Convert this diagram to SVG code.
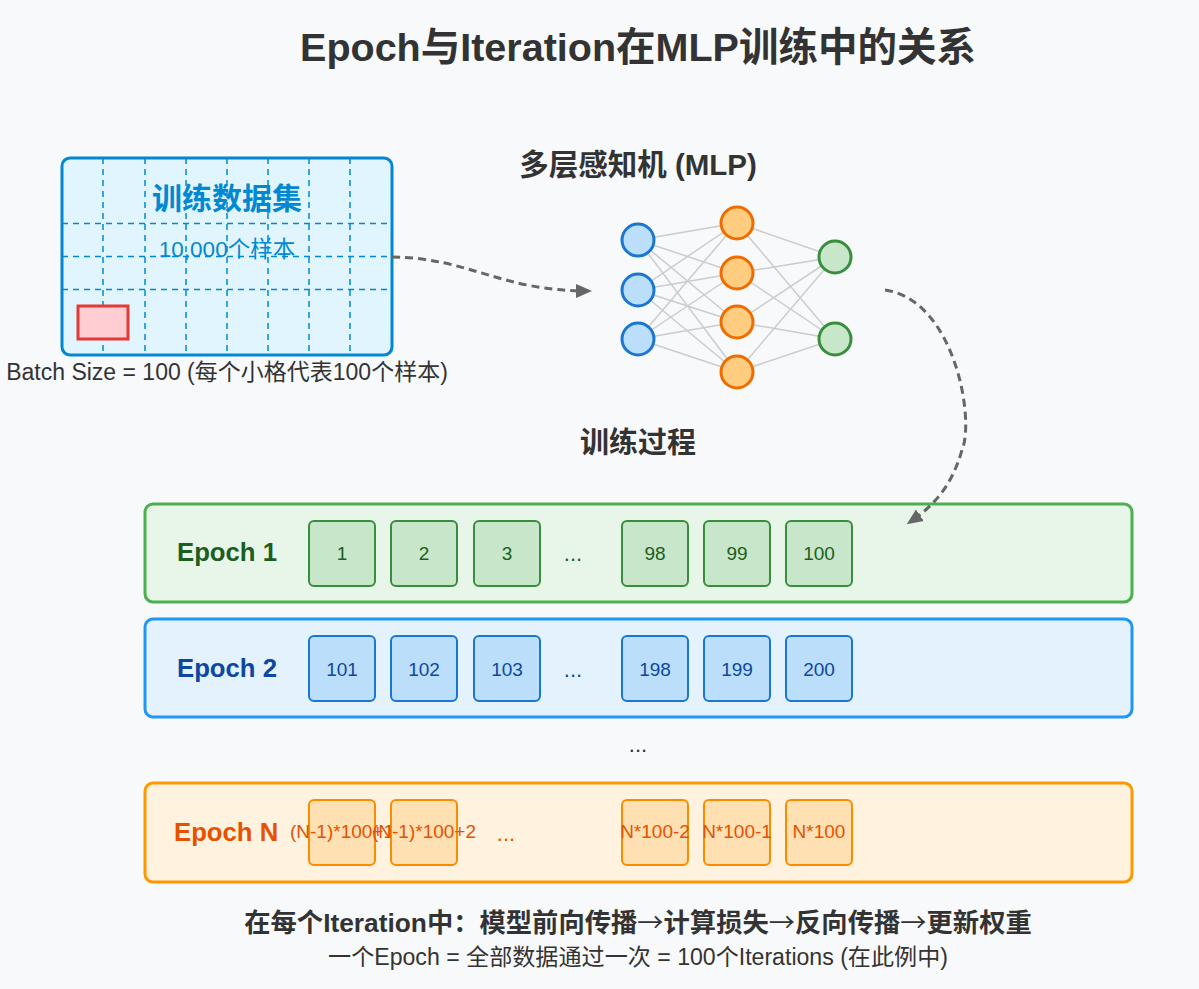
<svg xmlns="http://www.w3.org/2000/svg" width="1199" height="989" viewBox="0 0 1199 989">
<defs>
<marker id="arr" markerWidth="16" markerHeight="16" refX="12" refY="8" orient="auto" markerUnits="userSpaceOnUse">
<path d="M0,1 L16,8 L0,15 Z" fill="#666"/>
</marker>
<style>
text{font-family:"Liberation Sans","Noto Sans CJK SC",sans-serif;}
.h{font-weight:bold;fill:#333;text-anchor:middle;}
.grid{stroke:#0288d1;stroke-width:1.5;stroke-dasharray:6,5;fill:none;}
.syn{stroke:#ccc;stroke-width:1.5;}
.in{fill:#bbdefb;stroke:#1976d2;stroke-width:3;}
.hid{fill:#ffcc80;stroke:#ef6c00;stroke-width:3;}
.out{fill:#c8e6c9;stroke:#388e3c;stroke-width:3;}
.flow{fill:none;stroke:#666;stroke-width:3;stroke-dasharray:8,5;}
.elabel{font-weight:bold;font-size:25.7px;}
.it{text-anchor:middle;font-size:19px;}
.dots{text-anchor:middle;font-size:22px;}
.g1 rect.b{fill:#c8e6c9;stroke:#388e3c;stroke-width:2;}
.g2 rect.b{fill:#bbdefb;stroke:#1976d2;stroke-width:2;}
.gn rect.b{fill:#ffe0b2;stroke:#fb8c00;stroke-width:2;}
</style>
</defs>
<rect x="0" y="0" width="1199" height="989" fill="#f8f9fa"/>
<text class="h" x="638" y="61" font-size="39.5">Epoch与Iteration在MLP训练中的关系</text>

<g id="dataset">
<rect x="62" y="158" width="330" height="197" rx="8" fill="#e1f5fe" stroke="#0288d1" stroke-width="3"/>
<line class="grid" x1="103" y1="158" x2="103" y2="355"/>
<line class="grid" x1="145" y1="158" x2="145" y2="355"/>
<line class="grid" x1="186" y1="158" x2="186" y2="355"/>
<line class="grid" x1="227" y1="158" x2="227" y2="355"/>
<line class="grid" x1="268" y1="158" x2="268" y2="355"/>
<line class="grid" x1="309" y1="158" x2="309" y2="355"/>
<line class="grid" x1="350" y1="158" x2="350" y2="355"/>
<line class="grid" x1="62" y1="223.5" x2="392" y2="223.5"/>
<line class="grid" x1="62" y1="256.5" x2="392" y2="256.5"/>
<line class="grid" x1="62" y1="289.5" x2="392" y2="289.5"/>
<text x="227" y="209" text-anchor="middle" font-size="30" font-weight="bold" fill="#0288d1">训练数据集</text>
<text x="227" y="257" text-anchor="middle" font-size="22.5" fill="#0288d1">10,000个样本</text>
<rect x="78" y="306" width="50" height="33" fill="#ffcdd2" stroke="#e53935" stroke-width="3"/>
<text x="227" y="380" text-anchor="middle" font-size="23" fill="#333">Batch Size = 100 (每个小格代表100个样本)</text>
</g>

<g id="mlp">
<text class="h" x="638" y="175" font-size="29.5">多层感知机 (MLP)</text>
<g>
<line class="syn" x1="638" y1="240" x2="737" y2="223"/><line class="syn" x1="638" y1="240" x2="737" y2="273"/><line class="syn" x1="638" y1="240" x2="737" y2="322"/><line class="syn" x1="638" y1="240" x2="737" y2="372"/>
<line class="syn" x1="638" y1="290" x2="737" y2="223"/><line class="syn" x1="638" y1="290" x2="737" y2="273"/><line class="syn" x1="638" y1="290" x2="737" y2="322"/><line class="syn" x1="638" y1="290" x2="737" y2="372"/>
<line class="syn" x1="638" y1="339" x2="737" y2="223"/><line class="syn" x1="638" y1="339" x2="737" y2="273"/><line class="syn" x1="638" y1="339" x2="737" y2="322"/><line class="syn" x1="638" y1="339" x2="737" y2="372"/>
<line class="syn" x1="737" y1="223" x2="835" y2="257"/><line class="syn" x1="737" y1="223" x2="835" y2="339"/>
<line class="syn" x1="737" y1="273" x2="835" y2="257"/><line class="syn" x1="737" y1="273" x2="835" y2="339"/>
<line class="syn" x1="737" y1="322" x2="835" y2="257"/><line class="syn" x1="737" y1="322" x2="835" y2="339"/>
<line class="syn" x1="737" y1="372" x2="835" y2="257"/><line class="syn" x1="737" y1="372" x2="835" y2="339"/>
</g>
<circle class="in" cx="638" cy="240" r="16"/><circle class="in" cx="638" cy="290" r="16"/><circle class="in" cx="638" cy="339" r="16"/>
<circle class="hid" cx="737" cy="223" r="16"/><circle class="hid" cx="737" cy="273" r="16"/><circle class="hid" cx="737" cy="322" r="16"/><circle class="hid" cx="737" cy="372" r="16"/>
<circle class="out" cx="835" cy="257" r="16"/><circle class="out" cx="835" cy="339" r="16"/>
</g>

<text class="h" x="638" y="453" font-size="29">训练过程</text>

<g id="epoch1" class="g1">
<rect x="145" y="504" width="987" height="98" rx="8" fill="#e8f5e9" stroke="#4caf50" stroke-width="3"/>
<text class="elabel" x="177" y="561" fill="#1b5e20">Epoch 1</text>
<rect class="b" x="309" y="521" width="66" height="65" rx="5"/><text class="it" x="342" y="560" fill="#1b5e20">1</text>
<rect class="b" x="391" y="521" width="66" height="65" rx="5"/><text class="it" x="424" y="560" fill="#1b5e20">2</text>
<rect class="b" x="474" y="521" width="66" height="65" rx="5"/><text class="it" x="507" y="560" fill="#1b5e20">3</text>
<text class="dots" x="573" y="561" fill="#1b5e20">...</text>
<rect class="b" x="622" y="521" width="66" height="65" rx="5"/><text class="it" x="655" y="560" fill="#1b5e20">98</text>
<rect class="b" x="704" y="521" width="66" height="65" rx="5"/><text class="it" x="737" y="560" fill="#1b5e20">99</text>
<rect class="b" x="786" y="521" width="66" height="65" rx="5"/><text class="it" x="819" y="560" fill="#1b5e20">100</text>
</g>

<g id="epoch2" class="g2">
<rect x="145" y="619" width="987" height="98" rx="8" fill="#e3f2fd" stroke="#2196f3" stroke-width="3"/>
<text class="elabel" x="177" y="677" fill="#0d47a1">Epoch 2</text>
<rect class="b" x="309" y="636" width="66" height="65" rx="5"/><text class="it" x="342" y="676" fill="#0d47a1">101</text>
<rect class="b" x="391" y="636" width="66" height="65" rx="5"/><text class="it" x="424" y="676" fill="#0d47a1">102</text>
<rect class="b" x="474" y="636" width="66" height="65" rx="5"/><text class="it" x="507" y="676" fill="#0d47a1">103</text>
<text class="dots" x="573" y="677" fill="#0d47a1">...</text>
<rect class="b" x="622" y="636" width="66" height="65" rx="5"/><text class="it" x="655" y="676" fill="#0d47a1">198</text>
<rect class="b" x="704" y="636" width="66" height="65" rx="5"/><text class="it" x="737" y="676" fill="#0d47a1">199</text>
<rect class="b" x="786" y="636" width="66" height="65" rx="5"/><text class="it" x="819" y="676" fill="#0d47a1">200</text>
</g>

<text class="dots" x="638" y="752" fill="#333">...</text>

<g id="epochN" class="gn">
<rect x="145" y="783" width="987" height="99" rx="8" fill="#fff3e0" stroke="#ff9800" stroke-width="3"/>
<text class="elabel" x="174" y="841" fill="#e65100">Epoch N</text>
<rect class="b" x="309" y="800" width="66" height="65" rx="5"/><text class="it" x="342" y="838" font-size="13.5" fill="#e65100">(N-1)*100+1</text>
<rect class="b" x="391" y="800" width="66" height="65" rx="5"/><text class="it" x="424" y="838" font-size="13.5" fill="#e65100">(N-1)*100+2</text>
<text class="dots" x="506" y="841" fill="#e65100">...</text>
<rect class="b" x="622" y="800" width="66" height="65" rx="5"/><text class="it" x="655" y="838" font-size="13.5" fill="#e65100">N*100-2</text>
<rect class="b" x="704" y="800" width="66" height="65" rx="5"/><text class="it" x="737" y="838" font-size="13.5" fill="#e65100">N*100-1</text>
<rect class="b" x="786" y="800" width="66" height="65" rx="5"/><text class="it" x="819" y="838" font-size="13.5" fill="#e65100">N*100</text>
</g>

<g id="notes">
<text class="h" x="638" y="932" font-size="26.3">在每个Iteration中：模型前向传播<tspan font-weight="normal" font-family="Noto Sans CJK SC, sans-serif">→</tspan>计算损失<tspan font-weight="normal" font-family="Noto Sans CJK SC, sans-serif">→</tspan>反向传播<tspan font-weight="normal" font-family="Noto Sans CJK SC, sans-serif">→</tspan>更新权重</text>
<text x="638" y="965" text-anchor="middle" font-size="23.1" fill="#333">一个Epoch = 全部数据通过一次 = 100个Iterations (在此例中)</text>
</g>

<g id="connectors">
<path class="flow" d="M392,257 C470,258 500,291 588,291" marker-end="url(#arr)"/>
<path class="flow" d="M885,290 C955,300 975,420 962,450 C952,485 935,505 910,522" marker-end="url(#arr)"/>
</g>
</svg>
